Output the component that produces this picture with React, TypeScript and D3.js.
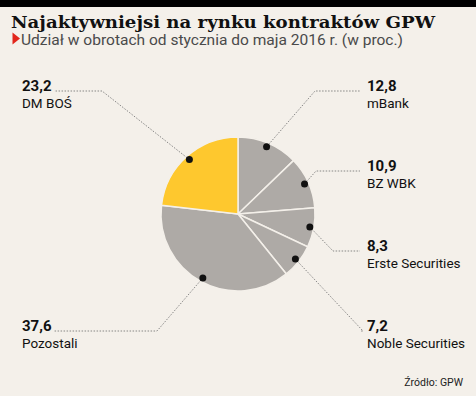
import React, { useEffect, useRef } from 'react';
import * as d3 from 'd3';

// udział w obrotach, w proc.
const firms = ['mBank', 'BZ WBK', 'Erste Securities', 'Noble Securities', 'Pozostali', 'DM BOŚ'];
const shares = [12.8, 10.9, 8.3, 7.2, 37.6, 23.2];
const highlight = ['DM BOŚ'];

// where each annotation sits (side, baseline of value, x of the elbow)
const labelSide = ['right', 'right', 'right', 'right', 'left', 'left'];
const labelY = [91, 171, 251, 331, 331, 91];
const elbowX = [315, 316, 333, 363, 157, 102];

const App = () => {
  const svgRef = useRef<SVGSVGElement>(null);

  useEffect(() => {
    const width = 476;
    const height = 396;
    const cx = 238;
    const cy = 214;
    const radius = 77;

    const svg = d3.select(svgRef.current);
    svg.selectAll('*').remove();
    svg.attr('width', width).attr('height', height);

    svg.append('rect').attr('width', width).attr('height', height).attr('fill', '#f4f0ea');
    svg.append('rect').attr('width', width).attr('height', 7).attr('fill', '#000');

    svg.append('text')
      .attr('x', 11)
      .attr('y', 28)
      .attr('font-family', 'DejaVu Serif')
      .attr('font-weight', 'bold')
      .attr('font-size', 16.5)
      .attr('textLength', 424)
      .attr('lengthAdjust', 'spacingAndGlyphs')
      .attr('fill', '#111')
      .text('Najaktywniejsi na rynku kontraktów GPW');

    svg.append('path')
      .attr('d', 'M12.5,32.5 L20,38.5 L12.5,44.5 Z')
      .attr('fill', '#e2261c');

    svg.append('text')
      .attr('x', 21)
      .attr('y', 44.5)
      .attr('font-family', 'Roboto')
      .attr('font-size', 14.5)
      .attr('textLength', 382)
      .attr('lengthAdjust', 'spacingAndGlyphs')
      .attr('fill', '#4a4a4a')
      .text('Udział w obrotach od stycznia do maja 2016 r. (w proc.)');

    const pie = d3.pie<number>().sort(null).value(d => d);
    const arcs = pie(shares);
    const arc = d3.arc<d3.PieArcDatum<number>>().innerRadius(0).outerRadius(radius);
    const dotArc = d3.arc<d3.PieArcDatum<number>>().innerRadius(73).outerRadius(73);

    const g = svg.append('g').attr('transform', `translate(${cx},${cy})`);

    g.selectAll('.slice')
      .data(arcs)
      .enter()
      .append('path')
      .attr('class', 'slice')
      .attr('d', arc)
      .attr('fill', (d, i) => highlight.includes(firms[i]) ? '#fec82e' : '#aeaaa6')
      .attr('stroke', '#f4f0ea')
      .attr('stroke-width', 1.5);

    const fmt = (v: number) => d3.format('.1f')(v).replace('.', ',');

    arcs.forEach((d, i) => {
      const [dx, dy] = dotArc.centroid(d);
      const px = cx + dx;
      const py = cy + dy;
      const right = labelSide[i] === 'right';
      const endX = right ? 360 : 54;
      const ly = labelY[i];

      svg.append('path')
        .attr('d', d3.line()([[px, py], [elbowX[i], ly], [endX, ly]]))
        .attr('fill', 'none')
        .attr('stroke', '#7a7a7a')
        .attr('stroke-width', 0.9)
        .attr('stroke-dasharray', '1.5,1.5');

      svg.append('circle')
        .attr('cx', px)
        .attr('cy', py)
        .attr('r', 3.5)
        .attr('fill', '#111');

      const tx = right ? 367 : 22;
      svg.append('text')
        .attr('x', tx)
        .attr('y', ly)
        .attr('font-family', 'Roboto')
        .attr('font-weight', 'bold')
        .attr('font-size', 15)
        .attr('fill', '#111')
        .text(fmt(shares[i]));

      svg.append('text')
        .attr('x', tx)
        .attr('y', ly + 16.5)
        .attr('font-family', 'Roboto')
        .attr('font-size', 13.5)
        .attr('fill', '#111')
        .text(firms[i]);
    });

    svg.append('text')
      .attr('x', 463)
      .attr('y', 386)
      .attr('text-anchor', 'end')
      .attr('font-family', 'Roboto')
      .attr('font-size', 10.5)
      .attr('fill', '#222')
      .text('Źródło: GPW');
  }, []);

  return <svg ref={svgRef} style={{ position: 'absolute', left: 0, top: 0 }}></svg>;
};

export default App;
